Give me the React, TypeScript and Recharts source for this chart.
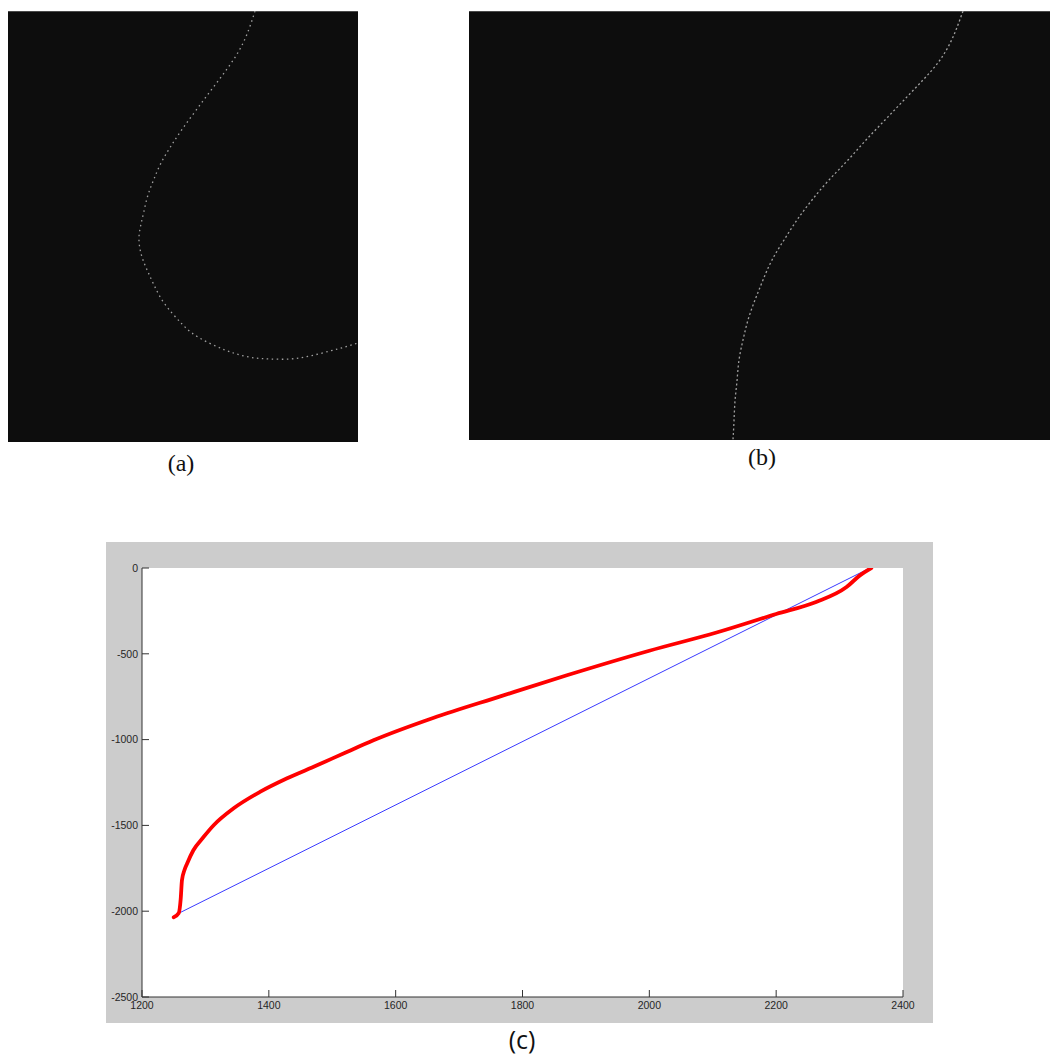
import React from 'react';
import { LineChart, Line, XAxis, YAxis, CartesianGrid } from 'recharts';

// Panel (a): edge pixels of the first binary image (column, row)
const panelACols = [247, 241, 232, 219, 204, 189, 175, 163, 153, 146, 140, 136, 133, 131, 132, 135, 140, 146, 154, 164, 174, 184, 199, 217, 232, 247, 262, 282, 302, 322, 337, 350];
const panelARows = [0, 18, 38, 58, 78, 98, 117, 135, 152, 168, 184, 200, 213, 226, 238, 249, 261, 274, 289, 302, 313, 322, 331, 339, 344, 347, 348, 348, 345, 340, 336, 332];

// Panel (b): edge pixels of the second binary image (column, row)
const panelBCols = [494, 484, 471, 454, 435, 416, 397, 379, 360, 343, 328, 315, 303, 294, 286, 279, 274, 270, 268, 266, 265, 264];
const panelBRows = [0, 26, 49, 69, 89, 109, 129, 149, 169, 189, 209, 229, 249, 269, 289, 309, 329, 349, 370, 390, 410, 429];

// Panel (c): traced edge (red) and chord (blue)
const edgeX = [1250, 1258, 1261, 1263, 1267, 1271, 1281, 1297, 1313, 1344, 1386, 1428, 1476, 1523, 1565, 1659, 1765, 1870, 2000, 2106, 2200, 2263, 2311, 2332, 2350];
const edgeY = [-2035, -2010, -1930, -1820, -1760, -1723, -1645, -1568, -1499, -1402, -1305, -1227, -1150, -1072, -1004, -874, -748, -625, -482, -376, -268, -198, -111, -43, 0];
const chordX = [1258, 2348];
const chordY = [-2012, 0];

const xTicks = [1200, 1400, 1600, 1800, 2000, 2200, 2400];
const yTicks = [0, -500, -1000, -1500, -2000, -2500];
const panelLabels = ['(a)', '(b)', '(c)'];

const panelA = panelACols.map((c, i) => ({ col: c, row: panelARows[i] }));
const panelB = panelBCols.map((c, i) => ({ col: c, row: panelBRows[i] }));
const edge = edgeX.map((x, i) => ({ x, y: edgeY[i] }));
const chord = chordX.map((x, i) => ({ x, y: chordY[i] }));

const TICK_LEN = 7;
const AXIS_COLOR = '#333333';
const LABEL_STYLE = { fontFamily: '"Liberation Sans", Arial, sans-serif', fontSize: 10.5, fill: '#262626' };

function EdgePanel({ data, left, top, width, height, dash }: any) {
  return (
    <div style={{ position: 'absolute', left, top, width, height, background: '#0d0d0d', boxShadow: 'inset 0 1px 0 #4a4a4a' }}>
      <LineChart width={width} height={height} margin={{ top: 0, right: 0, bottom: 0, left: 0 }}>
        <XAxis type="number" dataKey="col" domain={[0, width]} hide allowDataOverflow />
        <YAxis type="number" dataKey="row" domain={[0, height]} reversed hide allowDataOverflow />
        <Line
          data={data}
          dataKey="row"
          type="natural"
          stroke="#a0a0a0"
          strokeWidth={1.3}
          strokeDasharray={dash}
          dot={false}
          isAnimationActive={false}
        />
      </LineChart>
    </div>
  );
}

const BottomTick = (props: any) => {
  const { x, y, payload } = props;
  const axisY = y - 3;
  return (
    <g>
      <line x1={x} y1={axisY} x2={x} y2={axisY - TICK_LEN} stroke={AXIS_COLOR} strokeWidth={1} />
      <text x={x} y={y + 2} dy="0.71em" textAnchor="middle" {...LABEL_STYLE}>{payload.value}</text>
    </g>
  );
};

const TopTick = (props: any) => {
  const { x, y } = props;
  return <line x1={x} y1={y} x2={x} y2={y + TICK_LEN} stroke={AXIS_COLOR} strokeWidth={1} />;
};

const LeftTick = (props: any) => {
  const { x, y, payload } = props;
  const axisX = x + 4;
  return (
    <g>
      <line x1={axisX} y1={y} x2={axisX + TICK_LEN} y2={y} stroke={AXIS_COLOR} strokeWidth={1} />
      <text x={x} y={y} dy="0.355em" textAnchor="end" {...LABEL_STYLE}>{payload.value}</text>
    </g>
  );
};

const RightTick = (props: any) => {
  const { x, y } = props;
  return <line x1={x} y1={y} x2={x - TICK_LEN} y2={y} stroke={AXIS_COLOR} strokeWidth={1} />;
};

function EdgeComparisonChart() {
  return (
    <div style={{ position: 'absolute', left: 106, top: 542, width: 827, height: 481, background: '#cccccc' }}>
      <LineChart width={827} height={481} margin={{ top: 26, right: 30, bottom: 0, left: 0 }}>
        <CartesianGrid xAxisId="b" yAxisId="l" fill="#ffffff" horizontal={false} vertical={false} />
        <XAxis
          xAxisId="b"
          type="number"
          dataKey="x"
          domain={[1200, 2400]}
          ticks={xTicks}
          interval={0}
          height={26}
          tickSize={0}
          tickMargin={3}
          tick={<BottomTick />}
          axisLine={{ stroke: AXIS_COLOR }}
          allowDataOverflow
        />
        <XAxis
          xAxisId="t"
          orientation="top"
          type="number"
          dataKey="x"
          domain={[1200, 2400]}
          ticks={xTicks}
          interval={0}
          height={0}
          tickSize={0}
          tickMargin={0}
          tick={<TopTick />}
          axisLine={{ stroke: AXIS_COLOR }}
          allowDataOverflow
        />
        <YAxis
          yAxisId="l"
          type="number"
          dataKey="y"
          domain={[-2500, 0]}
          ticks={yTicks}
          interval={0}
          width={36}
          tickSize={0}
          tickMargin={4}
          tick={<LeftTick />}
          axisLine={{ stroke: AXIS_COLOR }}
          allowDataOverflow
        />
        <YAxis
          yAxisId="r"
          orientation="right"
          type="number"
          dataKey="y"
          domain={[-2500, 0]}
          ticks={yTicks}
          interval={0}
          width={0}
          tickSize={0}
          tickMargin={0}
          tick={<RightTick />}
          axisLine={{ stroke: AXIS_COLOR }}
          allowDataOverflow
        />
        <Line
          xAxisId="b"
          yAxisId="l"
          data={chord}
          dataKey="y"
          type="linear"
          stroke="#3a3aff"
          strokeWidth={1}
          dot={false}
          isAnimationActive={false}
        />
        <Line
          xAxisId="b"
          yAxisId="l"
          data={edge}
          dataKey="y"
          type="monotone"
          stroke="#ff0000"
          strokeWidth={3.8}
          strokeLinejoin="round"
          strokeLinecap="round"
          dot={false}
          isAnimationActive={false}
        />
      </LineChart>
    </div>
  );
}

export default function App() {
  const serif = { fontFamily: '"Liberation Serif", "Times New Roman", serif', fontSize: 24, lineHeight: '26px', color: '#111' };
  return (
    <div style={{ position: 'fixed', left: 0, top: 0, width: 1050, height: 1055, overflow: 'hidden', background: '#ffffff' }}>
      <style>{'html{overflow:hidden;}'}</style>
      <EdgePanel data={panelA} left={8} top={11} width={350} height={431} dash="1.5 3.5" />
      <EdgePanel data={panelB} left={469} top={11} width={581} height={429} dash="2 2.5" />
      <div style={{ ...serif, position: 'absolute', left: 151, top: 450, width: 60, textAlign: 'center' }}>{panelLabels[0]}</div>
      <div style={{ ...serif, position: 'absolute', left: 732, top: 444, width: 60, textAlign: 'center' }}>{panelLabels[1]}</div>
      <div style={{ position: 'absolute', left: 492, top: 1023, width: 60, textAlign: 'center', fontFamily: '"Open Sans", "Liberation Sans", sans-serif', fontSize: 25, lineHeight: '32px', color: '#111' }}>{panelLabels[2]}</div>
      <EdgeComparisonChart />
    </div>
  );
}
